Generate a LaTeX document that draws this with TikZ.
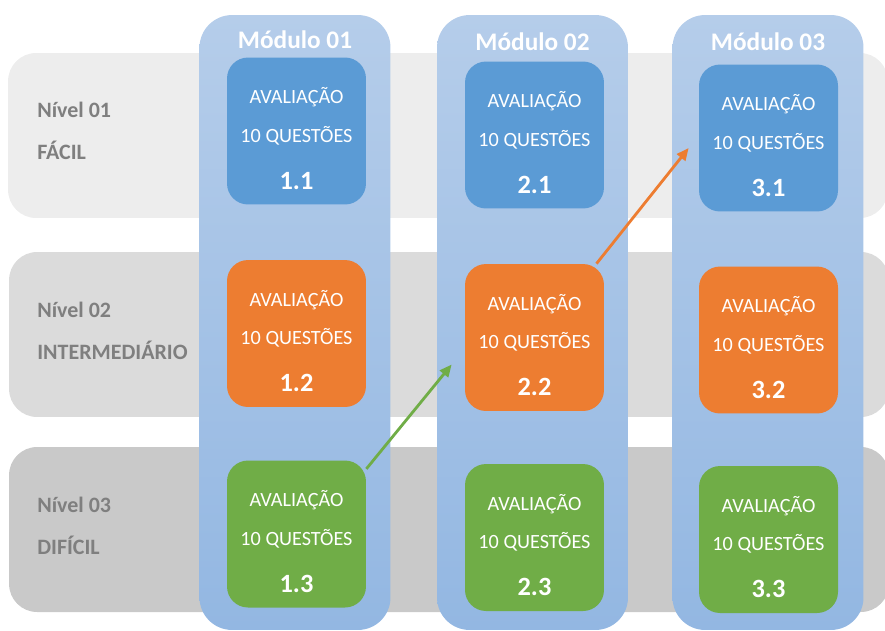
\documentclass[tikz,border=0pt]{standalone}
\usepackage{fontspec}
\setmainfont{Carlito}
\usetikzlibrary{arrows.meta,calc}

\definecolor{bandA}{HTML}{EDEDED}
\definecolor{bandB}{HTML}{DBDBDB}
\definecolor{bandC}{HTML}{C9C9C9}
\definecolor{colTop}{HTML}{B5CDEA}
\definecolor{colBot}{HTML}{93B7E2}
\definecolor{evBlue}{HTML}{5B9BD5}
\definecolor{evOrange}{HTML}{ED7D31}
\definecolor{evGreen}{HTML}{70AD47}
\definecolor{lvText}{HTML}{7F7F7F}

\tikzset{
  levelband/.style={rounded corners=0.56cm, minimum width=17.6cm, minimum height=3.3cm, inner sep=0pt},
  modcol/.style={rounded corners=0.65cm, top color=colTop, bottom color=colBot, draw=none,
    minimum width=3.82cm, minimum height=12.3cm, inner sep=0pt},
  modtitle/.style={text=white, font=\fontsize{14.4}{16}\selectfont\bfseries},
  evalbox/.style={rounded corners=0.42cm, minimum width=2.78cm, minimum height=2.94cm,
    inner sep=0pt, text=white, align=center, font=\fontsize{11.5}{13.8}\selectfont},
  lvlabel/.style={anchor=west, align=left, inner sep=0pt, text=lvText, font=\fontsize{12.5}{14}\selectfont\bfseries},
  jump/.style={line width=1.6pt, -{Triangle[length=7pt,width=6pt]}}
}

\newcommand{\evaltxt}[1]{\mbox{}\\[4pt]AVALIAÇÃO\\[8pt]10 QUESTÕES\\[13pt]{\fontsize{15}{17}\selectfont\bfseries #1}}

\begin{document}
\begin{tikzpicture}[x=0.02cm, y=-0.02cm]
    \useasboundingbox (0,0) rectangle (885,630);

    % niveis
    \node[levelband, fill=bandA] (row1) at (448,135.5) {};
    \node[levelband, fill=bandB] (row2) at (449,334.5) {};
    \node[levelband, fill=bandC] (row3) at (449,529.5) {};

    \node[lvlabel] (lv1) at (37,131) {Nível 01\\[10pt]FÁCIL};
    \node[lvlabel] (lv2) at (37,331) {Nível 02\\[10pt]INTERMEDIÁRIO};
    \node[lvlabel] (lv3) at (37,526) {Nível 03\\[10pt]DIFÍCIL};

    % modulos
    \node[modcol] (mod1) at (295,322.5) {};
    \node[modcol] (mod2) at (532.5,322.5) {};
    \node[modcol] (mod3) at (768,322.5) {};

    \node[modtitle] (hd1) at ($(mod1.north)+(0,25)$) {Módulo 01};
    \node[modtitle] (hd2) at ($(mod2.north)+(0,27)$) {Módulo 02};
    \node[modtitle] (hd3) at ($(mod3.north)+(0,27)$) {Módulo 03};

    % avaliacoes
    \node[evalbox, fill=evBlue] (b11) at (296.5,131) {\evaltxt{1.1}};
    \node[evalbox, fill=evOrange] (b12) at (296.5,333.5) {\evaltxt{1.2}};
    \node[evalbox, fill=evGreen] (b13) at (296.5,534) {\evaltxt{1.3}};

    \node[evalbox, fill=evBlue] (b21) at (534.5,135) {\evaltxt{2.1}};
    \node[evalbox, fill=evOrange] (b22) at (534.5,337.5) {\evaltxt{2.2}};
    \node[evalbox, fill=evGreen] (b23) at (534.5,537.5) {\evaltxt{2.3}};

    \node[evalbox, fill=evBlue] (b31) at (768.5,138) {\evaltxt{3.1}};
    \node[evalbox, fill=evOrange] (b32) at (768.5,340) {\evaltxt{3.2}};
    \node[evalbox, fill=evGreen] (b33) at (768.5,539.5) {\evaltxt{3.3}};

    % progressao
    \coordinate (g22) at ($(b22.west)+(-13,27)$);
    \coordinate (o31) at ($(b31.west)+(-10,10)$);
    \draw[jump, evGreen] (b13.43) -- (g22);
    \draw[jump, evOrange] (b22.50) -- (o31);
\end{tikzpicture}
\end{document}
